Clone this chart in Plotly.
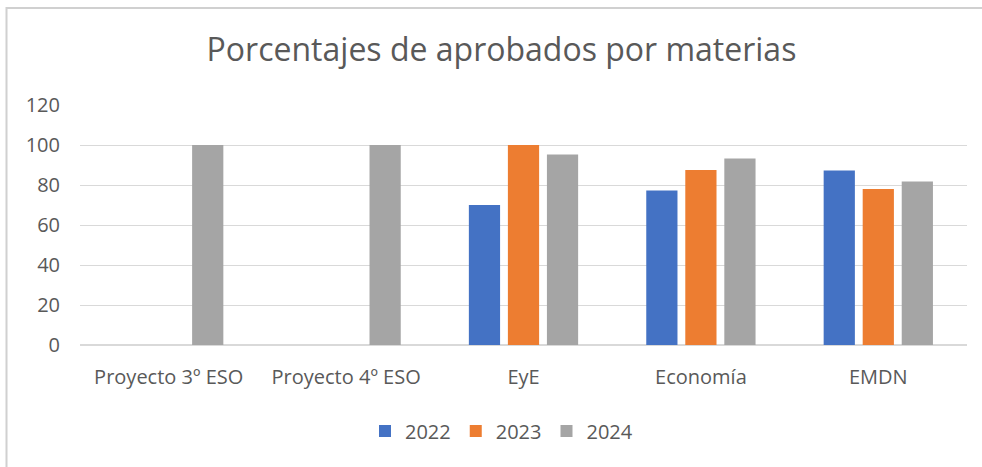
import plotly.graph_objects as go

categories = ["Proyecto 3º ESO", "Proyecto 4º ESO", "EyE", "Economía", "EMDN"]
v2022 = [None, None, 70, 77.3, 87.2]
v2023 = [None, None, 100, 87.5, 78]
v2024 = [100, 100, 95.3, 93.3, 81.8]
series_names = ["2022", "2023", "2024"]
colors = ["#4472C4", "#ED7D31", "#A5A5A5"]
y_ticks = [0, 20, 40, 60, 80, 100, 120]

FONT = "Open Sans, Calibri, sans-serif"
TXT = "#595959"

fig = go.Figure()
for name, vals, col in zip(series_names, [v2022, v2023, v2024], colors):
    fig.add_trace(go.Bar(x=categories, y=vals, name=name, marker=dict(color=col, line=dict(width=0))))

W, H = 982, 467
L, R, T, B = 80, 15, 105, 122
pw, ph = W - L - R, H - T - B


def px_x(p):
    return (p - L) / pw


def px_y(p):
    return (T + ph - p) / ph


border_path = "M {:.5f},{:.5f} L {:.5f},{:.5f} L {:.5f},{:.5f}".format(
    px_x(6.5), px_y(470), px_x(6.5), px_y(8), px_x(985), px_y(8))

fig.update_layout(
    width=W, height=H,
    margin=dict(l=L, r=R, t=T, b=B),
    paper_bgcolor="white", plot_bgcolor="white",
    barmode="group", bargap=0.34, bargroupgap=0.2,
    font=dict(family=FONT, color=TXT, size=20),
    title=dict(text="Porcentajes de aprobados por materias", x=501.5 / W, xanchor="center",
               y=1 - 50 / H, yanchor="middle", font=dict(size=32, color=TXT, family=FONT)),
    legend=dict(orientation="h", x=(501.5 - L) / pw, xanchor="center", y=-(431 - (T + ph)) / ph,
                yanchor="middle", font=dict(size=20, color=TXT), itemwidth=30, traceorder="normal"),
    xaxis=dict(showgrid=False, showline=True, linecolor="#D9D9D9", linewidth=1, ticks="",
               ticklabelstandoff=14, tickfont=dict(size=20, color=TXT)),
    yaxis=dict(range=[0, 120], tickvals=y_ticks, showgrid=True, gridcolor="#D9D9D9", gridwidth=1,
               zeroline=True, zerolinecolor="#D9D9D9", showline=False, ticks="",
               ticklabelstandoff=19, tickfont=dict(size=20, color=TXT)),
    shapes=[
        dict(type="path", xref="paper", yref="paper", path=border_path,
             line=dict(color="#D0D0D0", width=2)),
    ],
)

fig.write_html("out.html", config={"displayModeBar": False},
               post_script="document.body.style.margin='0';")
